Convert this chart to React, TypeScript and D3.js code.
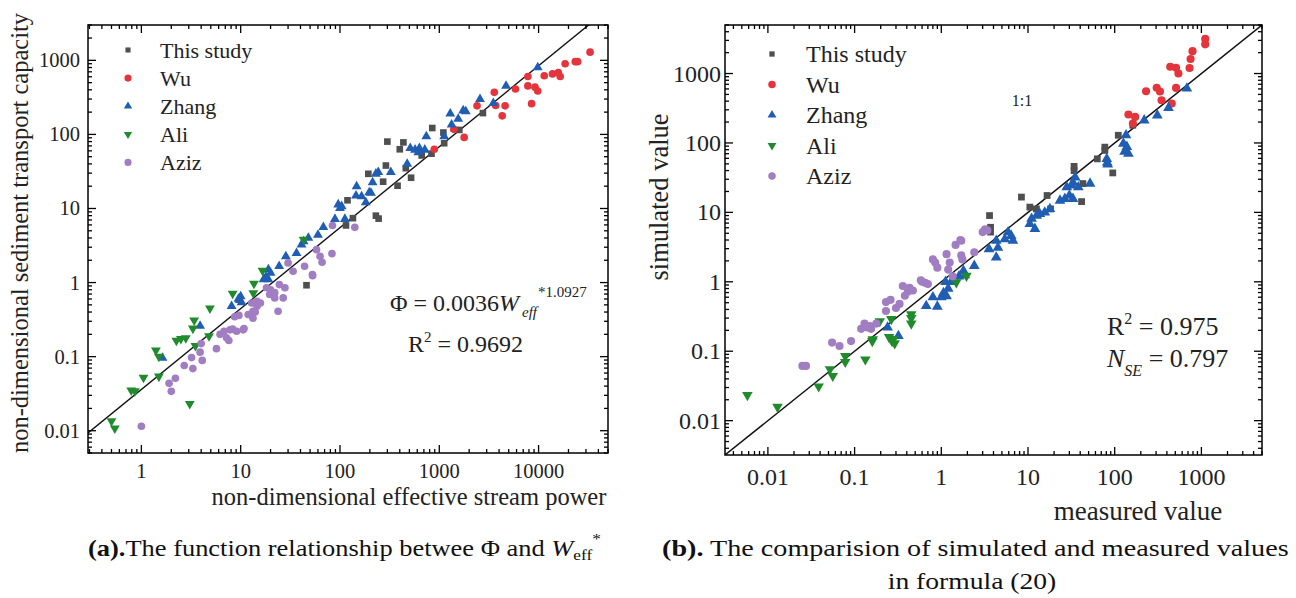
import React from "react";
import * as d3 from "d3";

// ---------- Panel (a) data: [W_eff*, Phi] ----------
const aThisStudy: [number, number][] = [
  [2750, 194], [1590, 115], [1100, 106], [850, 122], [1120, 76], [835, 55], [665, 52], [435, 78],
  [400, 63], [300, 80], [290, 38], [460, 35], [520, 26], [193, 29.4], [272, 23], [380, 20.3],
  [119, 12.9], [135, 7.4], [230, 8.0], [245, 7.3], [115, 5.9], [46, 0.92],
];
const aWu: [number, number][] = [
  [33000, 1290], [23400, 960], [24700, 960], [18500, 900], [15800, 683], [16500, 605], [13800, 656],
  [11400, 620], [7800, 605], [7800, 452], [9200, 434], [9800, 386], [8500, 260], [5850, 410],
  [4600, 243], [4300, 178], [3700, 246], [3580, 370], [2400, 243], [1780, 91], [1400, 117], [890, 63],
];
const aZhang: [number, number][] = [
  [9800, 800], [4700, 452], [3500, 265], [2570, 299], [1740, 210], [1850, 204], [1550, 162], [1290, 190],
  [1330, 135], [1120, 94], [740, 94], [510, 65], [570, 62], [630, 65], [715, 62], [615, 57], [475, 40],
  [325, 31], [243, 31], [230, 29.4], [213, 22.5], [205, 16.2], [147, 19.8], [145, 14.9], [165, 14.6],
  [182, 12.1], [197, 16.5], [96, 11.3], [104, 10.7], [100, 10.1], [89, 7.2], [112, 7.2], [68, 5.6],
  [60, 4.4], [48, 4.0], [41, 3.25], [43, 3.6], [36.5, 2.5], [28.5, 2.26], [24.4, 1.66], [19, 1.5],
  [18, 1.2], [20, 1.35], [10, 0.65], [9.8, 0.58], [10.2, 0.54], [9.5, 0.6], [8.1, 0.48], [3.9, 0.26],
  [1.63, 0.096], [17, 1.1], [19, 1.1],
];
const aAli: [number, number][] = [
  [43, 3.8], [16.6, 1.45], [13.6, 0.97], [13.4, 0.72], [8.3, 0.71], [4.9, 0.45], [3.4, 0.31], [3.3, 0.24],
  [3.5, 0.14], [3.07, 0.023], [4.8, 0.19], [2.25, 0.165], [2.5, 0.174], [2.8, 0.178], [1.4, 0.122],
  [1.5, 0.1], [1.05, 0.052], [1.5, 0.054], [0.79, 0.035], [0.86, 0.0342], [0.5, 0.0135], [0.54, 0.0108],
];
const aAziz: [number, number][] = [
  [141, 5.56], [84, 5.9], [58, 2.78], [63, 2.26], [66, 1.88], [83, 2.46], [44, 1.66], [53, 1.24],
  [1.0, 0.0115], [1.9, 0.0436], [2.0, 0.034], [2.2, 0.051], [2.7, 0.076], [3.2, 0.097], [3.3, 0.069],
  [4.0, 0.15], [3.9, 0.115], [4.1, 0.089], [5.7, 0.128], [6.2, 0.2], [6.8, 0.22], [7.2, 0.18], [7.8, 0.23],
  [8.3, 0.235], [7.6, 0.165], [9.1, 0.22], [8.7, 0.345], [9.6, 0.36], [10.8, 0.24], [11.9, 0.37],
  [13.3, 0.41], [14.6, 0.48], [14.6, 0.56], [12.9, 0.53], [18.2, 0.85], [19.6, 0.69], [22, 0.62],
  [23.8, 0.41], [26.8, 0.62], [27.9, 0.85], [24.5, 0.94], [30, 1.84], [33.7, 1.42], [52.8, 1.28],
  [20, 0.8], [22, 0.73], [15.8, 0.53], [14, 0.4], [13.3, 0.33], [10.6, 0.23],
];
const aFitCoef = 0.036;
const aFitExp = 1.0927;

// ---------- Panel (b) data: [measured, simulated] ----------
const bThisStudy: [number, number][] = [
  [162, 180], [110, 129], [77, 87], [77, 78], [63, 59], [95, 37], [34, 46], [34, 40], [43, 26],
  [41.5, 14.3], [16.6, 17.5], [8.4, 16.6], [10.5, 11.9], [12.5, 11.2], [18.2, 11.2], [3.6, 9.0],
  [3.7, 6.1], [3.7, 5.2],
];
const bWu: [number, number][] = [
  [1107, 3150], [1107, 2630], [790, 2100], [750, 1620], [730, 1200], [437, 1250], [510, 1210],
  [543, 1000], [510, 620], [230, 556], [305, 623], [333, 550], [347, 412], [455, 370], [144, 257],
  [172, 237], [162, 190],
];
const bZhang: [number, number][] = [
  [680, 610], [417, 320], [310, 250], [219, 212], [135, 129], [126, 98], [138, 88], [130, 75], [144, 70],
  [81, 59], [82, 52], [83, 49], [35, 32], [33, 27], [38, 23], [32, 24.5], [28, 23], [26.6, 15.7],
  [23.4, 14.8], [30, 17.5], [33, 15.7], [52, 26], [17.9, 11.2], [15.6, 10], [13.7, 9.5], [12.6, 9],
  [11, 8.1], [10.5, 6.8], [12, 5.8], [6.4, 4.6], [5.9, 5.2], [6.7, 3.9], [5.4, 4.1], [4.3, 3.9],
  [4.5, 3.1], [3.55, 2.96], [2.4, 1.7], [4.3, 2.25], [1.86, 1.25], [1.8, 1.44], [1.6, 1.2], [1.3, 1.0],
  [1.2, 0.8], [1.15, 0.62], [1.0, 0.6], [0.9, 0.44], [0.32, 0.166], [0.24, 0.22], [0.67, 0.45],
  [0.8, 0.6], [1.06, 0.69], [1.12, 1.0],
];
const bAli: [number, number][] = [
  [0.0058, 0.0233], [0.0129, 0.0158], [0.0385, 0.031], [0.056, 0.044], [0.052, 0.055], [0.078, 0.085],
  [0.078, 0.07], [0.133, 0.076], [0.162, 0.149], [0.265, 0.29], [0.25, 0.16], [0.27, 0.14], [0.29, 0.13],
  [0.28, 0.15], [0.45, 0.34], [0.45, 0.25], [0.45, 0.3], [1.49, 0.98], [1.95, 1.22], [0.195, 0.27],
  [0.16, 0.14],
];
const bAziz: [number, number][] = [
  [0.025, 0.0615], [0.0275, 0.0615], [0.055, 0.133], [0.067, 0.119], [0.091, 0.14], [0.119, 0.21],
  [0.13, 0.25], [0.15, 0.23], [0.155, 0.21], [0.178, 0.25], [0.14, 0.22], [0.23, 0.51], [0.26, 0.55],
  [0.3, 0.42], [0.23, 0.38], [0.33, 0.48], [0.36, 0.87], [0.41, 0.72], [0.43, 0.82], [0.47, 0.75],
  [0.38, 0.63], [0.6, 1.0], [0.65, 0.97], [0.7, 0.93], [0.58, 1.05], [0.8, 2.1], [0.9, 1.6], [0.85, 1.9],
  [1.15, 2.5], [1.25, 1.9], [1.2, 1.5], [1.35, 1.2], [1.46, 3.4], [1.66, 4.0], [1.75, 2.1], [3.2, 5.7],
  [3.4, 5.5], [3.0, 5.2], [1.7, 3.9], [2.4, 2.66], [1.7, 2.4],
];

const seriesNames = ["This study", "Wu", "Zhang", "Ali", "Aziz"];
const seriesColors = ["#4f4f4f", "#e3353b", "#1f5eb2", "#1f8b2c", "#a17dc2"];
const seriesShapes = ["square", "circle", "up", "down", "circle"];

const FONT = "'Liberation Serif', 'Times New Roman', serif";

function symbolPath(shape: string, size: number): string {
  if (shape === "square") return d3.symbol(d3.symbolSquare, size)() as string;
  if (shape === "circle") return d3.symbol(d3.symbolCircle, size)() as string;
  return d3.symbol(d3.symbolTriangle, size)() as string;
}

function logTicks(lo: number, hi: number) {
  const out: { v: number; major: boolean; d: number }[] = [];
  for (let d = Math.floor(Math.log10(lo)); d <= Math.ceil(Math.log10(hi)); d++) {
    for (let m = 1; m <= 9; m++) {
      const v = m * Math.pow(10, d);
      if (v >= lo * 0.999 && v <= hi * 1.001) out.push({ v, major: m === 1, d });
    }
  }
  return out;
}
function fmt(d: number) {
  return d >= 0 ? String(Math.pow(10, d)) : Math.pow(10, d).toFixed(-d);
}

type Scale = d3.ScaleLogarithmic<number, number>;

function Frame({ x, y, tickSize, xLabels, yLabels, xLabY, yLabX }: {
  x: Scale; y: Scale; tickSize: number; xLabels: number[]; yLabels: number[]; xLabY: number; yLabX: number;
}) {
  const [x0, x1] = x.range();
  const [y1, y0] = y.range();
  const xt = logTicks(x.domain()[0], x.domain()[1]);
  const yt = logTicks(y.domain()[0], y.domain()[1]);
  const sw = 1.3;
  return (
    <g>
      {xt.map((t, i) => {
        const px = x(t.v);
        const L = t.major ? 8 : 4;
        return (
          <g key={"x" + i}>
            <line x1={px} x2={px} y1={y1} y2={y1 - L} stroke="#000" strokeWidth={sw} />
            <line x1={px} x2={px} y1={y0} y2={y0 + L} stroke="#000" strokeWidth={sw} />
          </g>
        );
      })}
      {yt.map((t, i) => {
        const py = y(t.v);
        const L = t.major ? 8 : 4;
        return (
          <g key={"y" + i}>
            <line x1={x0} x2={x0 + L} y1={py} y2={py} stroke="#000" strokeWidth={sw} />
            <line x1={x1} x2={x1 - L} y1={py} y2={py} stroke="#000" strokeWidth={sw} />
          </g>
        );
      })}
      <rect x={x0} y={y0} width={x1 - x0} height={y1 - y0} fill="none" stroke="#000" strokeWidth={1.5} />
      {xt.filter((t) => t.major && xLabels.includes(t.d)).map((t, i) => (
        <text key={"xl" + i} x={x(t.v)} y={xLabY} textAnchor="middle" fontSize={tickSize} fontFamily={FONT} fill="#222">
          {fmt(t.d)}
        </text>
      ))}
      {yt.filter((t) => t.major && yLabels.includes(t.d)).map((t, i) => (
        <text key={"yl" + i} x={yLabX} y={y(t.v)} textAnchor="end" dominantBaseline="central" fontSize={tickSize} fontFamily={FONT} fill="#222">
          {fmt(t.d)}
        </text>
      ))}
    </g>
  );
}

function Points({ data, x, y, shape, color, size }: {
  data: [number, number][]; x: Scale; y: Scale; shape: string; color: string; size: number;
}) {
  const p = symbolPath(shape, size);
  return (
    <g>
      {data.map((d, i) => (
        <path key={i} d={p} fill={color}
          transform={`translate(${x(d[0])},${y(d[1])})${shape === "down" ? " rotate(180)" : ""}`} />
      ))}
    </g>
  );
}

function Legend({ x, tx, y0, dy, fontSize, sizes }: { x: number; tx: number; y0: number; dy: number; fontSize: number; sizes: number[] }) {
  return (
    <g>
      {seriesNames.map((n, i) => (
        <g key={n}>
          <path d={symbolPath(seriesShapes[i], sizes[i])} fill={seriesColors[i]}
            transform={`translate(${x},${y0 + i * dy})${seriesShapes[i] === "down" ? " rotate(180)" : ""}`} />
          <text x={tx} y={y0 + i * dy} dominantBaseline="central" fontSize={fontSize} fontFamily={FONT} fill="#222">{n}</text>
        </g>
      ))}
    </g>
  );
}

export default function App() {
  const ax = d3.scaleLog().domain([0.29, 50000]).range([88, 608]);
  const ay = d3.scaleLog().domain([0.005, 3000]).range([453, 25]);
  const bx = d3.scaleLog().domain([0.0032, 5000]).range([725, 1262]);
  const by = d3.scaleLog().domain([0.0032, 5000]).range([455, 25]);

  const aSets = [aThisStudy, aWu, aZhang, aAli, aAziz];
  const bSets = [bThisStudy, bWu, bZhang, bAli, bAziz];
  const aSizes = [44, 46, 42, 42, 46];
  const bSizes = [46, 52, 50, 48, 52];

  const fitLine = d3.line<number>()
    .x((v) => ax(v))
    .y((v) => ay(aFitCoef * Math.pow(v, aFitExp)));
  const fitXs = [ax.domain()[0], ax.domain()[1]];
  const oneLine = d3.line<number>().x((v) => bx(v)).y((v) => by(v));

  return (
    <svg width={1296} height={598} style={{ position: "absolute", left: 0, top: 0, background: "#fff" }}>
      <defs>
        <clipPath id="clipA"><rect x={88} y={25} width={520} height={428} /></clipPath>
        <clipPath id="clipB"><rect x={725} y={25} width={537} height={430} /></clipPath>
      </defs>
      <rect x={0} y={0} width={1296} height={598} fill="#fff" />

      {/* Panel (a) */}
      <g clipPath="url(#clipA)">
        <path d={fitLine(fitXs) as string} stroke="#111" strokeWidth={1.4} fill="none" />
        {aSets.map((s, i) => (
          <Points key={i} data={s} x={ax} y={ay} shape={seriesShapes[i]} color={seriesColors[i]} size={aSizes[i]} />
        ))}
      </g>
      <Frame x={ax} y={ay} tickSize={20.5} xLabels={[0, 1, 2, 3, 4]} yLabels={[-2, -1, 0, 1, 2, 3]} xLabY={478} yLabX={80} />
      <Legend x={128} tx={160} y0={50} dy={28.1} fontSize={22} sizes={[26, 40, 30, 30, 40]} />
      <text x={409} y={505} textAnchor="middle" fontSize={24.5} fontFamily={FONT} fill="#222">non-dimensional effective stream power</text>
      <text transform="translate(28,233) rotate(-90)" textAnchor="middle" fontSize={24.5} fontFamily={FONT} fill="#222">non-dimensional sediment transport capacity</text>
      <text x={390} y={311} fontSize={24} fontFamily={FONT} fill="#222">
        Φ = 0.0036<tspan fontStyle="italic">W</tspan>
      </text>
      <text x={522} y={317} fontSize={15} fontStyle="italic" fontFamily={FONT} fill="#222">eff</text>
      <text x={538} y={297} fontSize={15} fontFamily={FONT} fill="#222">*1.0927</text>
      <text x={408} y={352} fontSize={24} fontFamily={FONT} fill="#222">
        R<tspan fontSize={15} dy={-10}>2</tspan><tspan dy={10}> = 0.9692</tspan>
      </text>

      {/* Panel (b) */}
      <g clipPath="url(#clipB)">
        <path d={oneLine(bx.domain()) as string} stroke="#111" strokeWidth={1.4} fill="none" />
        {bSets.map((s, i) => (
          <Points key={i} data={s} x={bx} y={by} shape={seriesShapes[i]} color={seriesColors[i]} size={bSizes[i]} />
        ))}
      </g>
      <Frame x={bx} y={by} tickSize={24} xLabels={[-2, -1, 0, 1, 2, 3]} yLabels={[-2, -1, 0, 1, 2, 3]} xLabY={485} yLabX={721} />
      <Legend x={772} tx={806} y0={54} dy={30.5} fontSize={24} sizes={[28, 44, 34, 34, 44]} />
      <text x={1022} y={106} textAnchor="middle" fontSize={16} fontFamily={FONT} fill="#222">1:1</text>
      <text x={1138} y={520} textAnchor="middle" fontSize={27} fontFamily={FONT} fill="#222">measured value</text>
      <text transform="translate(668,197) rotate(-90)" textAnchor="middle" fontSize={26.5} fontFamily={FONT} fill="#222">simulated value</text>
      <text x={1107} y={335} fontSize={26} fontFamily={FONT} fill="#222">
        R<tspan fontSize={16} dy={-11}>2</tspan><tspan dy={11}> = 0.975</tspan>
      </text>
      <text x={1107} y={367} fontSize={26} fontFamily={FONT} fill="#222">
        <tspan fontStyle="italic">N</tspan><tspan fontSize={16} fontStyle="italic" dy={9}>SE</tspan><tspan dy={-9}> = 0.797</tspan>
      </text>

      {/* Captions */}
      <g transform="translate(88,556) scale(1.15,1)">
        <text x={0} y={0} fontSize={23} fontFamily={FONT} fill="#111">
          <tspan fontWeight="bold">(a).</tspan>The function relationship betwee Φ and <tspan fontStyle="italic">W</tspan><tspan fontSize={15} dy={4}>eff</tspan><tspan fontSize={15} dy={-16}>*</tspan>
        </text>
      </g>
      <g transform="translate(662,556) scale(1.225,1)">
        <text x={0} y={0} fontSize={23} fontFamily={FONT} fill="#111">
          <tspan fontWeight="bold">(b).</tspan> The comparision of simulated and measured values
        </text>
      </g>
      <g transform="translate(972,589) scale(1.2,1)">
        <text x={0} y={0} textAnchor="middle" fontSize={23} fontFamily={FONT} fill="#111">in formula (20)</text>
      </g>
    </svg>
  );
}
